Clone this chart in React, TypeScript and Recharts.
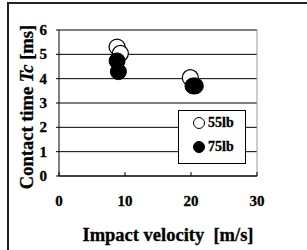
import React from "react";
import {
  ScatterChart,
  Scatter,
  XAxis,
  YAxis,
  CartesianGrid,
  ReferenceLine,
  Legend,
} from "recharts";

const FONT = '"Liberation Serif", "Times New Roman", serif';

// 55lb ball (open circles)
const lb55 = [
  { v: 8.8, tc: 5.3 },
  { v: 9.3, tc: 5.04 },
  { v: 19.9, tc: 4.04 },
];

// 75lb ball (filled circles)
const lb75 = [
  { v: 8.8, tc: 4.73 },
  { v: 9.0, tc: 4.29 },
  { v: 20.3, tc: 3.7 },
  { v: 20.65, tc: 3.7 },
];

const xTicks = [0, 10, 20, 30];
const yTicks = [0, 1, 2, 3, 4, 5, 6];

const OpenDot = (props: any) => (
  <circle cx={props.cx} cy={props.cy} r={8} fill="#fff" stroke="#000" strokeWidth={1.2} />
);
const FilledDot = (props: any) => (
  <circle cx={props.cx} cy={props.cy} r={8} fill="#000" stroke="#000" strokeWidth={1} />
);

// x ticks: short tick pointing up into the plot, label well below
const XTick = (props: any) => {
  const { x, y, payload } = props;
  return (
    <g>
      <line x1={x} x2={x} y1={y} y2={y - 4} stroke="#000" />
      <text
        x={x}
        y={y + 30}
        textAnchor="middle"
        fontFamily={FONT}
        fontWeight="bold"
        fontSize={15}
        fill="#000"
        stroke="#000"
        strokeWidth={0.3}
      >
        {payload.value}
      </text>
    </g>
  );
};

const YTick = (props: any) => {
  const { x, y, payload } = props;
  return (
    <text
      x={x}
      y={y + 5}
      textAnchor="end"
      fontFamily={FONT}
      fontWeight="bold"
      fontSize={15}
      fill="#000"
      stroke="#000"
      strokeWidth={0.3}
    >
      {payload.value}
    </text>
  );
};

const YLabel = () => (
  <text
    x={33}
    y={107}
    transform="rotate(-90, 33, 107)"
    textAnchor="middle"
    fontFamily={FONT}
    fontWeight="bold"
    fontSize={18.5}
    fill="#000"
    stroke="#000"
    strokeWidth={0.3}
    style={{ whiteSpace: "pre" }}
  >
    Contact time <tspan fontStyle="italic">Tc</tspan> [ms]
  </text>
);

const XLabel = () => (
  <text
    x={168}
    y={241}
    textAnchor="middle"
    fontFamily={FONT}
    fontWeight="bold"
    fontSize={18.5}
    fill="#000"
    stroke="#000"
    strokeWidth={0.3}
    style={{ whiteSpace: "pre" }}
  >
    {"Impact velocity  [m/s]"}
  </text>
);

const LegendBox = () => {
  const item = (top: number, filled: boolean, text: string) => (
    <div style={{ position: "absolute", left: 13, top, display: "flex", alignItems: "center" }}>
      <svg width={14} height={14}>
        <circle
          cx={7}
          cy={7}
          r={5.5}
          fill={filled ? "#000" : "#fff"}
          stroke="#000"
          strokeWidth={1}
        />
      </svg>
      <span
        style={{
          fontFamily: FONT,
          fontWeight: "bold",
          fontSize: 14,
          marginLeft: 2,
          lineHeight: "14px",
          WebkitTextStroke: "0.3px #000",
        }}
      >
        {text}
      </span>
    </div>
  );
  return (
    <div
      style={{
        position: "relative",
        width: 68,
        height: 54,
        border: "1px solid #000",
        background: "#fff",
        boxSizing: "border-box",
      }}
    >
      {item(5, false, "55lb")}
      {item(29, true, "75lb")}
    </div>
  );
};

export default function App() {
  return (
    <div
      style={{
        position: "absolute",
        left: 0,
        top: 0,
        width: 307,
        height: 250,
        background: "#fff",
        overflow: "hidden",
      }}
    >
      <div
        style={{
          position: "absolute",
          left: 7,
          top: 2,
          width: 320,
          height: 270,
          border: "2px solid #222",
        }}
      />
      <div style={{ position: "absolute", left: 0, top: 0 }}>
        <ScatterChart
          width={307}
          height={250}
          margin={{ top: 30, right: 50, bottom: 44, left: 39 }}
        >
          <CartesianGrid vertical={false} stroke="#000" strokeOpacity={1} />
          <ReferenceLine x={30} stroke="#999" />
          <XAxis
            type="number"
            dataKey="v"
            domain={[0, 30]}
            ticks={xTicks}
            height={30}
            tickSize={0}
            tickMargin={0}
            tickLine={false}
            axisLine={{ stroke: "#000" }}
            tick={<XTick />}
          />
          <YAxis
            type="number"
            dataKey="tc"
            domain={[0, 6]}
            ticks={yTicks}
            width={20}
            tickSize={3}
            tickMargin={9}
            interval={0}
            axisLine={{ stroke: "#000" }}
            tickLine={{ stroke: "#000" }}
            tick={<YTick />}
          />
          <Legend
            layout="vertical"
            align="center"
            verticalAlign="middle"
            content={<LegendBox />}
            wrapperStyle={{ left: 178, top: 110, width: 68, height: 54 }}
          />
          <Scatter name="55lb" data={lb55} shape={<OpenDot />} isAnimationActive={false} />
          <Scatter name="75lb" data={lb75} shape={<FilledDot />} isAnimationActive={false} />
          <YLabel />
          <XLabel />
        </ScatterChart>
      </div>
    </div>
  );
}
